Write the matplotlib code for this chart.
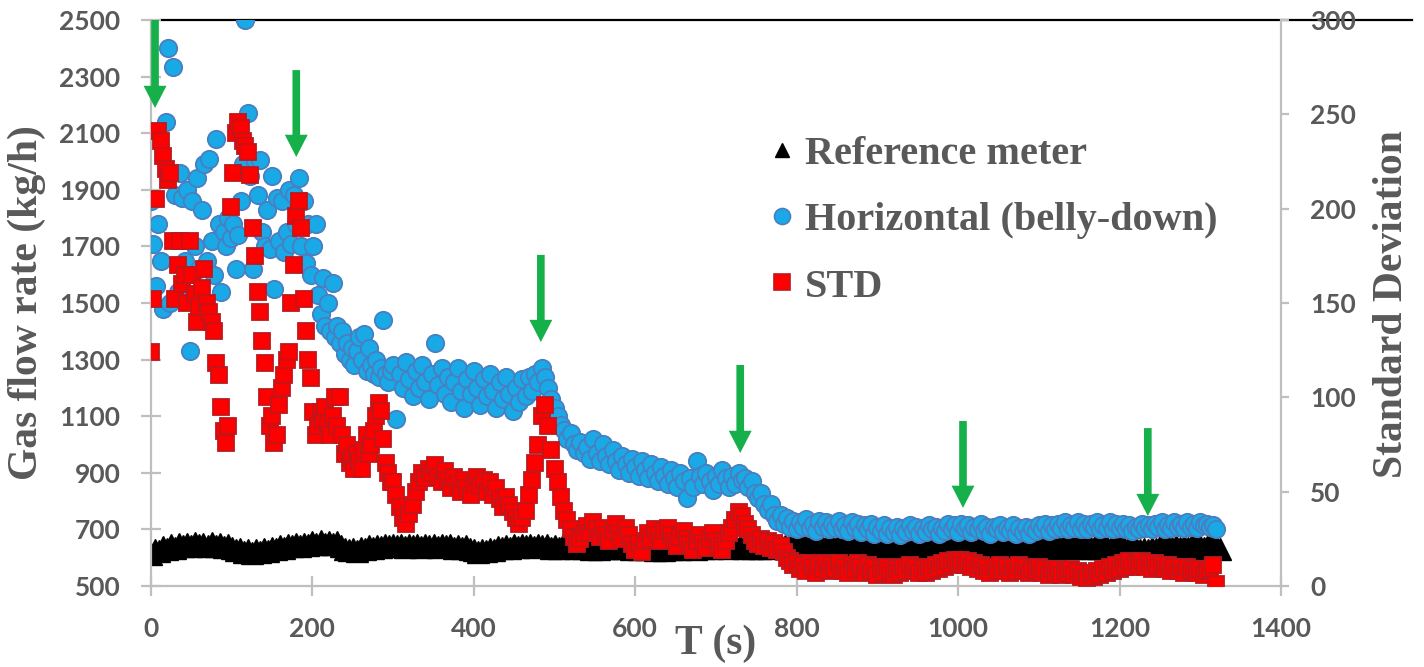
import numpy as np
import matplotlib
matplotlib.use("Agg")
import matplotlib.pyplot as plt
from matplotlib.lines import Line2D

# ---------------- data ----------------
# Reference meter gas flow rate (kg/h), sampled every 5 s from t = 0 s
REF_STEP = 5
REF_METER = [
    612, 628, 622, 638, 632, 645, 636, 648, 640, 650,
    642, 652, 644, 650, 640, 652, 643, 648, 638, 646,
    636, 626, 630, 620, 628, 618, 626, 620, 630, 624,
    636, 632, 642, 636, 646, 640, 648, 642, 650, 644,
    654, 648, 658, 650, 656, 648, 654, 640, 632, 626,
    630, 624, 634, 630, 640, 634, 642, 638, 644, 640,
    646, 640, 644, 638, 646, 640, 644, 638, 646, 640,
    644, 638, 646, 640, 644, 636, 642, 634, 640, 630,
    626, 620, 628, 622, 632, 628, 638, 634, 642, 636,
    644, 638, 646, 640, 644, 638, 646, 640, 644, 636,
    642, 636, 644, 638, 642, 636, 640, 634, 640, 632,
    638, 632, 640, 634, 642, 636, 640, 634, 638, 632,
    636, 630, 638, 632, 636, 628, 634, 628, 636, 630,
    638, 632, 640, 634, 638, 632, 640, 636, 642, 636,
    644, 638, 642, 636, 644, 638, 642, 636, 640, 634,
    640, 634, 642, 636, 644, 638, 646, 640, 644, 638,
    646, 640, 644, 638, 646, 640, 644, 636, 642, 636,
    640, 634, 642, 636, 640, 632, 638, 630, 636, 628,
    634, 628, 636, 630, 638, 632, 640, 634, 642, 636,
    640, 634, 642, 636, 640, 634, 638, 632, 640, 634,
    642, 636, 644, 638, 642, 636, 640, 634, 638, 632,
    638, 632, 636, 630, 634, 628, 636, 630, 638, 632,
    640, 634, 642, 636, 640, 634, 642, 636, 644, 638,
    642, 636, 640, 634, 642, 636, 644, 638, 642, 636,
    640, 634, 636, 630, 634, 626, 632, 628, 636, 632,
    640, 634, 642, 636, 640, 634, 642, 636, 644, 638,
    642, 636, 644, 638, 640, 630,
]

# Horizontal (belly-down) meter (kg/h): every 3 s for 0-297 s, every 4 s from 300 s
EARLY_STEP = 3
LATE_START = 300
LATE_STEP = 4
HZ_EARLY = [
    1860, 1710, 1560, 1780, 1650, 1480, 2140, 2400, 1500, 2335,
    1880, 1540, 1960, 1870, 1650, 1900, 1330, 1860, 1700, 1940,
    1620, 1830, 1990, 1650, 2010, 1720, 1600, 2080, 1780, 1540,
    1750, 1700, 1800, 1730, 1780, 1620, 1740, 1860, 1990, 2500,
    2170, 1950, 1620, 2000, 1880, 2005, 1750, 1700, 1830, 1690,
    1950, 1550, 1870, 1720, 1860, 1680, 1750, 1900, 1710, 1880,
    1780, 1940, 1700, 1860, 1640, 1780, 1600, 1700, 1780, 1530,
    1460, 1590, 1420, 1500, 1400, 1570, 1380, 1420, 1360, 1400,
    1320, 1360, 1300, 1340, 1280, 1330, 1380, 1300, 1390, 1260,
    1340, 1280, 1250, 1300, 1240, 1270, 1440, 1250, 1220, 1260,
]
HZ_LATE = [
    # 300-476 s
    1280, 1090, 1250, 1200, 1290, 1230, 1170, 1260, 1200, 1280,
    1220, 1160, 1250, 1360, 1210, 1270, 1180, 1240, 1150, 1220,
    1270, 1190, 1130, 1230, 1180, 1260, 1200, 1140, 1230, 1170,
    1250, 1190, 1130, 1220, 1160, 1240, 1180, 1120, 1200, 1150,
    1230, 1170, 1240, 1190, 1250,
    # 480-536 s
    1220, 1270, 1240, 1200, 1160, 1130, 1100, 1070, 1050, 1020,
    1040, 1000, 980, 1010, 970,
    # 540-736 s
    990, 950, 1020, 970, 940, 1000, 960, 930, 980, 940,
    910, 960, 930, 900, 950, 920, 890, 940, 910, 880,
    930, 900, 870, 920, 890, 860, 910, 880, 850, 900,
    870, 810, 880, 850, 940, 890, 860, 900, 870, 840,
    890, 860, 910, 880, 850, 890, 860, 900, 875, 880,
    # 740-796 s
    850, 870, 830, 810, 830, 790, 770, 790, 750, 730,
    750, 720, 740, 710, 730,
    # 800-1320 s
    700, 725, 710, 735, 705, 720, 695, 730, 710, 725,
    700, 720, 705, 730, 700, 715, 695, 725, 705, 720,
    690, 715, 700, 720, 685, 710, 695, 715, 685, 705,
    690, 710, 680, 705, 690, 715, 695, 710, 685, 705,
    690, 715, 700, 710, 685, 705, 695, 720, 700, 715,
    690, 720, 705, 715, 690, 710, 700, 720, 695, 710,
    685, 710, 700, 715, 690, 705, 695, 715, 685, 705,
    690, 710, 685, 705, 695, 715, 700, 720, 695, 715,
    700, 720, 705, 725, 700, 715, 705, 725, 700, 720,
    700, 720, 710, 725, 700, 715, 705, 725, 700, 720,
    705, 720, 700, 715, 695, 710, 700, 720, 705, 715,
    700, 720, 710, 725, 700, 715, 705, 725, 710, 720,
    705, 725, 710, 720, 705, 725, 715, 720, 710, 715,
    700,
]

# Standard deviation (right axis), same sampling as the horizontal meter
STD_EARLY = [
    124, 152, 205, 241, 236, 228, 221, 215, 219, 183,
    152, 170, 183, 160, 165, 150, 183, 165, 155, 140,
    148, 158, 168, 150, 145, 140, 135, 118, 112, 95,
    82, 76, 85, 201, 219, 240, 246, 243, 236, 233,
    230, 218, 190, 175, 156, 145, 130, 118, 100, 85,
    90, 76, 80, 96, 105, 112, 120, 124, 150, 170,
    196, 204, 190, 152, 135, 120, 110, 92, 80, 85,
    92, 88, 95, 86, 80, 90, 100, 85, 100, 80,
    70, 75, 65, 68, 62, 70, 66, 62, 72, 80,
    70, 75, 82, 90, 97, 93, 78, 65, 60, 55,
]
STD_LATE = [
    # 300-476 s
    55, 48, 42, 36, 33, 38, 43, 50, 55, 60,
    57, 62, 60, 64, 58, 55, 61, 56, 52, 58,
    54, 50, 56, 52, 48, 54, 58, 53, 56, 50,
    55, 48, 52, 46, 42, 47, 43, 39, 36, 33,
    36, 40, 48, 56, 65,
    # 480-536 s
    75, 90, 96, 85, 72, 62, 55, 47, 40, 35,
    30, 26, 22, 25, 28,
    # 540-736 s
    32, 28, 34, 30, 26, 31, 27, 24, 29, 33,
    28, 25, 31, 27, 22, 19, 23, 18, 24, 28,
    25, 30, 27, 24, 29, 31, 27, 24, 21, 26,
    29, 25, 22, 19, 24, 27, 23, 20, 25, 28,
    24, 21, 19, 24, 28, 31, 35, 39, 37, 33,
    # 740-796 s
    30, 27, 24, 22, 25, 21, 24, 20, 23, 19,
    21, 18, 15, 13, 11,
    # 800-1320 s
    12, 9, 11, 8, 12, 10, 7, 11, 9, 12,
    8, 11, 9, 12, 8, 10, 7, 11, 9, 12,
    10, 7, 11, 8, 10, 6, 9, 7, 10, 8,
    6, 9, 7, 10, 8, 11, 8, 10, 7, 9,
    7, 10, 8, 11, 9, 12, 10, 13, 11, 14,
    12, 14, 11, 13, 10, 12, 9, 11, 8, 10,
    7, 10, 8, 11, 8, 10, 7, 10, 8, 11,
    8, 10, 7, 9, 8, 10, 7, 9, 6, 9,
    7, 9, 6, 8, 7, 9, 6, 8, 5, 7,
    4, 7, 5, 8, 6, 9, 7, 10, 8, 11,
    9, 12, 10, 13, 10, 12, 11, 13, 10, 12,
    9, 12, 10, 11, 9, 11, 8, 10, 8, 10,
    7, 10, 8, 9, 7, 9, 6, 8, 9, 11,
    1,
]

LABELS = ["Reference meter", "Horizontal (belly-down)", "STD"]
X_TICKS = [0, 200, 400, 600, 800, 1000, 1200, 1400]
Y_TICKS = [500, 700, 900, 1100, 1300, 1500, 1700, 1900, 2100, 2300, 2500]
Y2_TICKS = [0, 50, 100, 150, 200, 250, 300]

# green arrow annotations: (time, arrow top, arrow tip) in left-axis units
ARROWS = [(5, 2500, 2189), (180, 2323, 2016), (483, 1670, 1362),
          (730, 1281, 970), (1006, 1083, 776), (1235, 1058, 747)]

# ---------------- time grids ----------------
t_ref = np.arange(len(REF_METER)) * REF_STEP
t_hz = np.concatenate([np.arange(len(HZ_EARLY)) * EARLY_STEP,
                       LATE_START + np.arange(len(HZ_LATE)) * LATE_STEP])
hz = np.array(HZ_EARLY + HZ_LATE)
t_std = np.concatenate([np.arange(len(STD_EARLY)) * EARLY_STEP,
                        LATE_START + np.arange(len(STD_LATE)) * LATE_STEP])
std = np.array(STD_EARLY + STD_LATE)

# ---------------- figure ----------------
W, H = 1424, 667
fig = plt.figure(figsize=(W / 100, H / 100), dpi=100)
ax = fig.add_axes([151 / W, 1 - 586 / H, (1281 - 151) / W, (586 - 20) / H])
ax2 = ax.twinx()
ax.patch.set_visible(False)
ax2.patch.set_visible(False)

GRAY = "#BFBFBF"
TXT = "#595959"
BLUE = "#19A9E6"
BLUE_EDGE = "#4A7EBF"
RED = "#FF0000"
RED_EDGE = "#C0161A"
GREEN = "#16B04B"

ax.plot(t_ref, REF_METER, ls="none", marker="^", ms=16, color="black",
        mec="black", mew=1, zorder=2)
ax.plot(t_hz, hz, ls="none", marker="o", ms=12.5, mfc=BLUE, mec=BLUE_EDGE,
        mew=1.3, zorder=3)
ax2.plot(t_std, std, ls="none", marker="s", ms=11.5, mfc=RED, mec=RED_EDGE,
         mew=1.3, zorder=3)

ax.set_xlim(0, 1400)
ax.set_ylim(500, 2500)
ax2.set_ylim(0, 300)
ax.set_xticks(X_TICKS)
ax.set_yticks(Y_TICKS)
ax2.set_yticks(Y2_TICKS)

for a in (ax, ax2):
    for s in a.spines.values():
        s.set_visible(False)
ax.spines["left"].set_visible(True)
ax.spines["bottom"].set_visible(True)
ax2.spines["right"].set_visible(True)
for s in (ax.spines["left"], ax.spines["bottom"], ax2.spines["right"]):
    s.set_color(GRAY)
    s.set_linewidth(1.6)

ax.tick_params(axis="both", direction="inout", length=14, width=1.6,
               color=GRAY, pad=15, labelcolor=TXT)
ax2.tick_params(axis="y", direction="out", length=6, width=1.6,
                color=GRAY, pad=15, labelcolor=TXT)
for lab in ax.get_xticklabels() + ax.get_yticklabels() + ax2.get_yticklabels():
    lab.set_fontfamily("Lato")
    lab.set_fontweight("bold")
    lab.set_fontsize(19)

label_font = dict(family="Liberation Serif", weight="bold", size=30, color=TXT)
fig.text(27 / W, 1 - 303 / H, "Gas flow rate (kg/h)", rotation=90,
         ha="center", va="center", **label_font)
fig.text(716 / W, 1 - 644 / H, "T (s)", ha="center", va="center", **label_font)
fig.text(1392 / W, 1 - 304 / H, "Standard Deviation", rotation=90,
         ha="center", va="center", **label_font)

# top black line
fig.add_artist(Line2D([161 / W, 1412 / W], [1 - 20 / H, 1 - 20 / H],
                      color="black", lw=1.6, zorder=-1,
                      transform=fig.transFigure))

# green arrows
for t, top, tip in ARROWS:
    ax.annotate("", xy=(t, tip), xytext=(t, top),
                arrowprops=dict(arrowstyle="simple,head_length=16,head_width=16.5,tail_width=5.5",
                                mutation_scale=1, color=GREEN, shrinkA=0, shrinkB=0,
                                lw=0),
                annotation_clip=False, zorder=6)

# legend
handles = [
    Line2D([], [], ls="none", marker="^", ms=10, color="black"),
    Line2D([], [], ls="none", marker="o", ms=11.5, mfc=BLUE, mec=BLUE_EDGE, mew=1.2),
    Line2D([], [], ls="none", marker="s", ms=11, mfc=RED, mec=RED_EDGE, mew=1.2),
]
leg = ax2.legend(handles, LABELS, loc="upper left",
                 bbox_to_anchor=(771 / W, 1 - 136 / H),
                 bbox_transform=fig.transFigure, frameon=False,
                 prop=dict(family="Liberation Serif", weight="bold", size=29),
                 labelcolor=TXT, handlelength=0.55, handletextpad=0.3,
                 labelspacing=0.72, borderpad=0, borderaxespad=0)
leg.set_zorder(10)

fig.savefig("out.png", dpi=100)
